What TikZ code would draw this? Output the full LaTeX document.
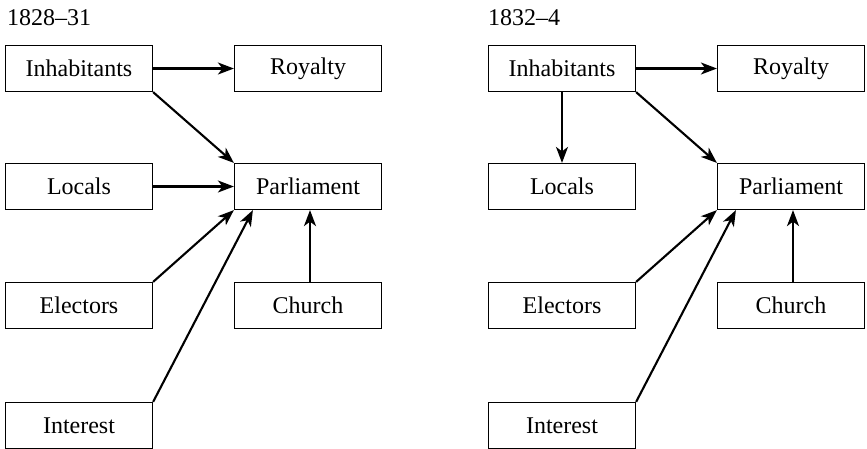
\documentclass[tikz,border=0pt]{standalone}
\usepackage{fontspec}
\setmainfont{Liberation Serif}
\usetikzlibrary{arrows.meta}
\begin{document}
\begin{tikzpicture}[x=1pt,y=-1pt,
  every node/.style={font=\fontsize{24}{28}\selectfont},
  actor/.style={draw,line width=1.2pt,rectangle,minimum width=147pt,minimum height=46pt,inner sep=0pt},
  flow/.style={line width=2.1pt,-{Stealth[length=16pt,width=12pt,inset=4.5pt]}},
  period/.style={anchor=base west,inner sep=0pt}]
\useasboundingbox (0,0) rectangle (867,448);
\clip (0,0) rectangle (867,448);

% ---- 1828-31 ----
\node[period] (t1) at (7,25) {1828--31};
\node[actor] (inh1) at (79,68.5)  {Inhabitants};
\node[actor] (roy1) at (308,68.5) {Royalty};
\node[actor] (loc1) at (79,186.5) {Locals};
\node[actor] (par1) at (308,186.5) {Parliament};
\node[actor] (ele1) at (79,305.5) {Electors};
\node[actor] (chu1) at (308,305.5) {Church};
\node[actor] (int1) at (79,425.5) {Interest};

\draw[flow] (inh1.east) -- (roy1.west);
\draw[flow] (inh1.south east) -- (par1.north west);
\draw[flow] (loc1.east) -- (par1.west);
\draw[flow] (ele1.north east) -- (par1.south west);
\draw[flow] (int1.north east) -- ([xshift=19pt]par1.south west);
\draw[flow] ([xshift=2pt]chu1.north) -- ([xshift=2pt]par1.south);

% ---- 1832-4 ----
\node[period] (t2) at (488,25) {1832--4};
\node[actor] (inh2) at (562,68.5)  {Inhabitants};
\node[actor] (roy2) at (791,68.5)  {Royalty};
\node[actor] (loc2) at (562,186.5) {Locals};
\node[actor] (par2) at (791,186.5) {Parliament};
\node[actor] (ele2) at (562,305.5) {Electors};
\node[actor] (chu2) at (791,305.5) {Church};
\node[actor] (int2) at (562,425.5) {Interest};

\draw[flow] (inh2.east) -- (roy2.west);
\draw[flow] (inh2.south) -- (loc2.north);
\draw[flow] (inh2.south east) -- (par2.north west);
\draw[flow] (ele2.north east) -- (par2.south west);
\draw[flow] (int2.north east) -- ([xshift=19pt]par2.south west);
\draw[flow] ([xshift=2pt]chu2.north) -- ([xshift=2pt]par2.south);
\end{tikzpicture}
\end{document}
